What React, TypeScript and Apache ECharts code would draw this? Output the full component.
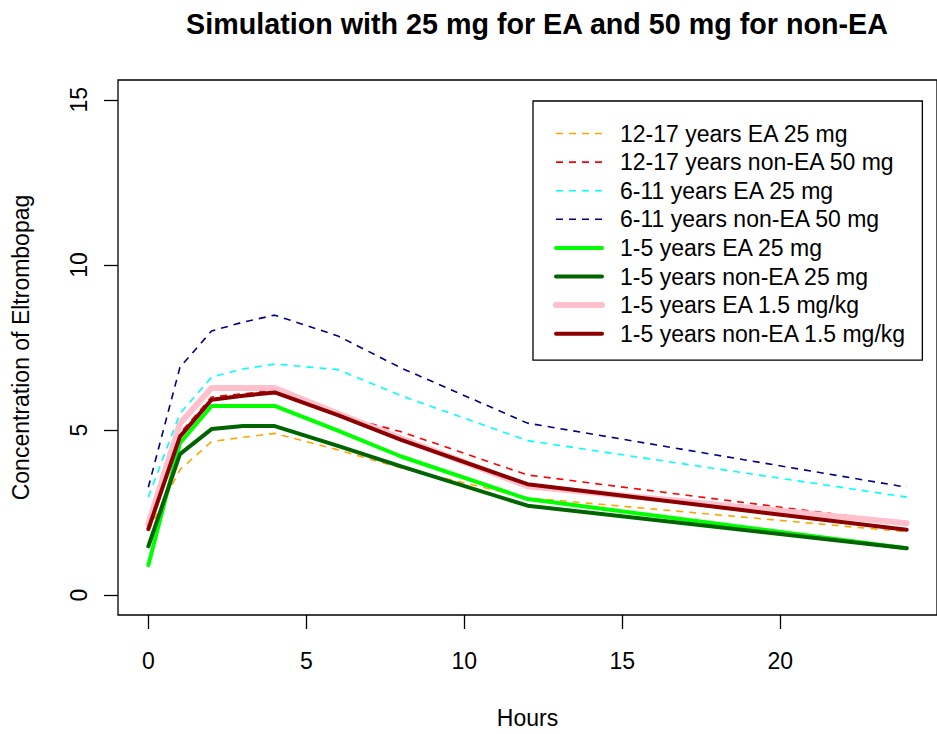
import React, { useEffect, useRef } from "react";
import * as echarts from "echarts";

// Sampling times (hours after dose)
const hours = [0, 1, 2, 3, 4, 6, 8, 12, 24];

const seriesNames = [
  "12-17 years EA 25 mg",
  "12-17 years non-EA 50 mg",
  "6-11 years EA 25 mg",
  "6-11 years non-EA 50 mg",
  "1-5 years EA 25 mg",
  "1-5 years non-EA 25 mg",
  "1-5 years EA 1.5 mg/kg",
  "1-5 years non-EA 1.5 mg/kg",
];

// Simulated concentration profiles
const teenEA25 = [1.95, 3.8, 4.65, 4.78, 4.9, 4.4, 3.85, 2.95, 1.92];
const teenNonEA50 = [2.05, 4.9, 6.0, 6.1, 6.2, 5.45, 4.95, 3.64, 2.18];
const childEA25 = [2.97, 5.5, 6.6, 6.85, 7.0, 6.83, 6.04, 4.68, 2.97];
const childNonEA50 = [3.27, 6.9, 8.0, 8.27, 8.48, 7.85, 6.88, 5.21, 3.27];
const infantEA25 = [0.91, 4.6, 5.73, 5.73, 5.73, 4.98, 4.2, 2.91, 1.42];
const infantNonEA25 = [1.48, 4.27, 5.03, 5.12, 5.12, 4.52, 3.9, 2.71, 1.42];
const infantEAkg = [2.15, 5.2, 6.27, 6.27, 6.27, 5.5, 4.75, 3.3, 2.18];
const infantNonEAkg = [2.0, 4.8, 5.92, 6.04, 6.14, 5.45, 4.7, 3.36, 1.98];

const xTicks = [0, 5, 10, 15, 20];
const yTicks = [0, 5, 10, 15];

const FONT = "'Liberation Sans', Arial, Helvetica, sans-serif";
const DASH = [7, 6];

const styles = [
  { color: "#FFA500", width: 1.6, type: DASH },
  { color: "#FF0000", width: 1.6, type: DASH },
  { color: "#00FFFF", width: 1.6, type: DASH },
  { color: "#000080", width: 1.6, type: DASH },
  { color: "#00FF00", width: 4, type: "solid" },
  { color: "#006400", width: 4, type: "solid" },
  { color: "#FFC0CB", width: 6, type: "solid" },
  { color: "#8B0000", width: 4, type: "solid" },
];

const profiles = [
  teenEA25,
  teenNonEA50,
  childEA25,
  childNonEA50,
  infantEA25,
  infantNonEA25,
  infantEAkg,
  infantNonEAkg,
];

export default function App() {
  const ref = useRef<HTMLDivElement>(null);

  useEffect(() => {
    if (!ref.current) return;
    const chart = echarts.init(ref.current, undefined, { renderer: "svg" });

    const series = profiles.map((vals, i) => {
      const s = styles[i];
      const solid = s.type === "solid";
      return {
        name: seriesNames[i],
        type: "line",
        data: hours.map((h, j) => [h, vals[j]]),
        symbol: "none",
        z: 2 + i,
        itemStyle: { color: s.color },
        lineStyle: {
          color: s.color,
          width: s.width,
          type: s.type,
          cap: solid ? "round" : "butt",
          join: "round",
        },
      };
    });

    chart.setOption({
      animation: false,
      backgroundColor: "#fff",
      title: {
        text: "Simulation with 25 mg for EA and 50 mg for non-EA",
        left: 532,
        textAlign: "center",
        top: 4,
        textStyle: {
          fontFamily: FONT,
          fontSize: 28.7,
          fontWeight: "bold",
          color: "#000",
        },
      },
      grid: {
        left: 118,
        top: 80,
        right: -11,
        bottom: 117,
        show: true,
        borderColor: "#000",
        borderWidth: 1.3,
        backgroundColor: "transparent",
      },
      legend: {
        orient: "vertical",
        left: 533,
        top: 101,
        selectedMode: false,
        backgroundColor: "#fff",
        borderColor: "#000",
        borderWidth: 1.3,
        padding: [21, 16, 15, 20],
        itemWidth: 46,
        itemHeight: 14,
        itemGap: 5.6,
        lineStyle: { type: "inherit", width: "inherit", color: "inherit" },
        textStyle: {
          fontFamily: FONT,
          fontSize: 23,
          lineHeight: 23,
          color: "#000",
          padding: [0, 0, 0, 13],
        },
        data: seriesNames.map((name) => ({
          name,
          itemStyle: { opacity: 0 },
        })),
      },
      xAxis: {
        type: "value",
        min: -0.96,
        max: 24.96,
        name: "Hours",
        nameLocation: "middle",
        nameGap: 91,
        nameTextStyle: { fontFamily: FONT, fontSize: 23, color: "#000" },
        axisLine: { show: false, onZero: false },
        splitLine: { show: false },
        axisTick: {
          show: true,
          inside: false,
          length: 14,
          customValues: xTicks,
          lineStyle: { color: "#000", width: 1.3 },
        },
        axisLabel: {
          customValues: xTicks,
          margin: 34,
          fontFamily: FONT,
          fontSize: 23,
          color: "#000",
        },
      },
      yAxis: {
        type: "value",
        min: -0.6,
        max: 15.6,
        name: "Concentration of Eltrombopag",
        nameLocation: "middle",
        nameGap: 86,
        nameRotate: 90,
        nameTextStyle: { fontFamily: FONT, fontSize: 23, color: "#000" },
        axisLine: { show: false, onZero: false },
        splitLine: { show: false },
        axisTick: {
          show: true,
          inside: false,
          length: 14,
          customValues: yTicks,
          lineStyle: { color: "#000", width: 1.3 },
        },
        axisLabel: {
          customValues: yTicks,
          rotate: 90,
          margin: 28,
          fontFamily: FONT,
          fontSize: 23,
          color: "#000",
        },
      },
      series,
    });

    return () => chart.dispose();
  }, []);

  return (
    <div
      ref={ref}
      style={{ position: "fixed", left: 0, top: 0, width: 937, height: 734 }}
    />
  );
}
